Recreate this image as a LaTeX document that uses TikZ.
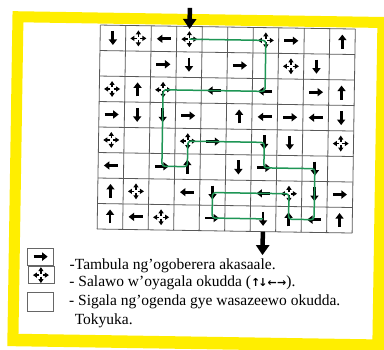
\documentclass[tikz,border=0pt]{standalone}
\usepackage{fontspec}
\setmainfont{Liberation Serif}
\newfontfamily\arrowfont{DejaVu Sans}
\usetikzlibrary{arrows.meta}
\definecolor{frameyellow}{RGB}{255,238,0}
\definecolor{routegreen}{RGB}{30,150,85}

\begin{document}
\begin{tikzpicture}[x=1pt, y=-1pt,
    gridline/.style={draw=black!65, line width=0.8pt},
    glyph/.style={line width=2.8pt, -{Triangle[length=5.5pt,width=8pt]}},
    cross/.style={line width=1.5pt, -{Triangle[length=4pt,width=5pt]}},
    bigarrow/.style={line width=4.5pt, -{Triangle[length=10pt,width=13pt]}},
    route/.style={draw=routegreen, line width=1.5pt, rounded corners=3pt},
    keybox/.style={draw=black!60, line width=0.8pt, minimum width=26pt, minimum height=17pt, inner sep=0pt},
    keytext/.style={anchor=base west, inner sep=0pt, font=\fontsize{15.5}{18}\selectfont},
    pics/arrowdown/.style={code={\draw[glyph] (0,-7) -- (0,7);}},
    pics/arrowup/.style={code={\draw[glyph] (0,7) -- (0,-7);}},
    pics/arrowleft/.style={code={\draw[glyph] (7,0) -- (-7,0);}},
    pics/arrowright/.style={code={\draw[glyph] (-7,0) -- (7,0);}},
    pics/fourway/.style={code={\foreach \a in {0,90,180,270} {\draw[cross] (\a:1.6) -- (\a:8);}}}
]
    % Page
    \useasboundingbox (0,0) rectangle (384,350);
    \fill[white] (0,0) rectangle (384,350);
    \clip (0,0) rectangle (384,350);
    \begin{scope}[rotate around={-0.9:(192,175)}]
    % Yellow frame
    \fill[frameyellow, even odd rule] (10,14) rectangle (392,349) (21,25) rectangle (375,336.5);
    % Cell centres
    \foreach \r in {1,...,8}
    {
        \foreach \c in {1,...,10}
        {
            \coordinate (cell-\r-\c) at ({98+25.5*(\c-0.5)},{26.5+25.5*(\r-0.5)});
        }
    }
    % Grid lines
    \foreach \c in {0,...,10}
    {
        \draw[gridline] ({98+25.5*\c},26.5) -- ({98+25.5*\c},230.5);
    }
    \foreach \r in {0,...,8}
    {
        \draw[gridline] (98,{26.5+25.5*\r}) -- (353,{26.5+25.5*\r});
    }
    % Arrows in the cells
    \foreach \p in {1-1,2-4,2-9,4-2,4-3,4-10,5-7,5-8,6-6,6-9,7-5,7-9,8-7}
    {
        \pic at (cell-\p) {arrowdown};
    }
    \foreach \p in {1-10,3-2,3-10,4-6,6-4,7-1,8-1,8-8,8-10}
    {
        \pic at (cell-\p) {arrowup};
    }
    \foreach \p in {1-3,3-5,3-7,4-7,4-9,6-1,7-4,7-7,8-2,8-9}
    {
        \pic at (cell-\p) {arrowleft};
    }
    \foreach \p in {1-8,2-3,2-6,3-9,4-1,4-4,4-8,5-5,6-3,6-7,7-10,8-5}
    {
        \pic at (cell-\p) {arrowright};
    }
    % Free choice cells
    \foreach \p in {1-2,1-4,1-7,2-8,3-1,3-3,5-1,5-4,5-10,7-2,7-8,8-3}
    {
        \pic at (cell-\p) {fourway};
    }
    % Way in and way out
    \coordinate (entry) at (187.25,8);
    \coordinate (gate) at (187.25,29);
    \coordinate (leave) at (263.75,231);
    \coordinate (exit) at (263.75,254);
    \draw[bigarrow] (entry) -- (gate);
    \draw[bigarrow] (leave) -- (exit);
    % The route
    \draw[route] (cell-1-4) -- (cell-1-7) -- (cell-3-7) -- (cell-3-3) -- (cell-6-3)
        -- (cell-6-4) -- (cell-5-4) -- (cell-5-7) -- (cell-6-7) -- (cell-6-9)
        -- (cell-8-9) -- (cell-8-8) -- (cell-7-8) -- (cell-7-5) -- (cell-8-5) -- (cell-8-7);
    % Key
    \node[keybox] (keymove) at (42,259) {};
    \node[keybox] (keychoose) at (42.5,277.5) {};
    \node[keybox, minimum height=19pt] (keystay) at (42.5,304) {};
    \pic at (keymove) {arrowright};
    \pic at (keychoose) {fourway};
    \node[keytext] (movetext) at (71,271) {-Tambula ng’ogoberera akasaale.};
    \node[keytext] (choosetext) at (71,288.5) {- Salawo w’oyagala okudda ({\arrowfont\bfseries\fontsize{11}{11}\selectfont ↑\kern-2pt↓←\kern0.5pt→}).};
    \node[keytext] (staytext) at (71,307) {- Sigala ng’ogenda gye wasazeewo okudda.};
    \node[keytext] (noturntext) at (77,326) {Tokyuka.};
    \end{scope}
\end{tikzpicture}
\end{document}
